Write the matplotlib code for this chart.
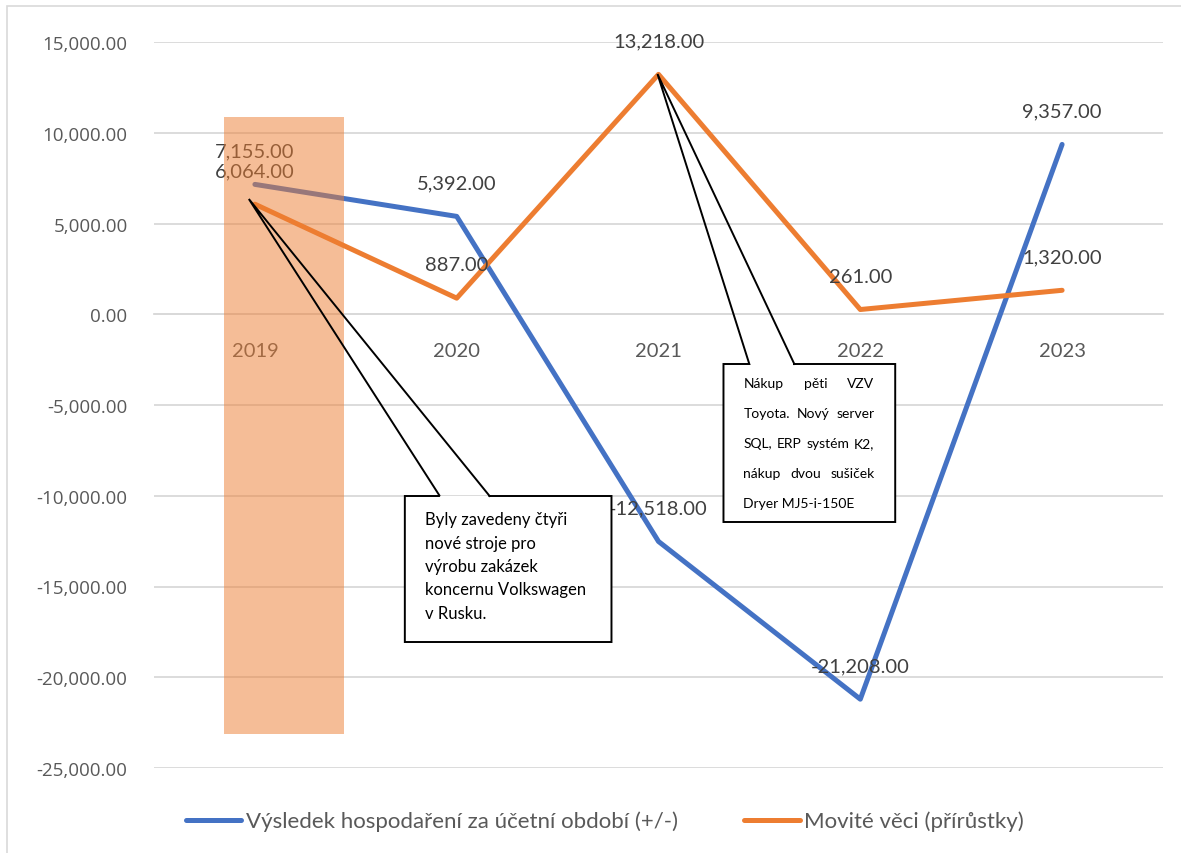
import matplotlib
matplotlib.use("Agg")
import matplotlib.pyplot as plt
from matplotlib.patches import Rectangle
from matplotlib.lines import Line2D

years = ["2019", "2020", "2021", "2022", "2023"]
vysledek = [7155, 5392, -12518, -21208, 9357]
movite = [6064, 887, 13218, 261, 1320]
series_names = ["Výsledek hospodaření za účetní období (+/-)", "Movité věci (přírůstky)"]
yticks = [15000, 10000, 5000, 0, -5000, -10000, -15000, -20000, -25000]

note1 = ["Byly zavedeny čtyři", "nové stroje pro", "výrobu zakázek",
         "koncernu Volkswagen", "v Rusku."]
note2 = ["Nákup pěti VZV", "Toyota. Nový server", "SQL, ERP systém K2,",
         "nákup dvou sušiček", "Dryer MJ5-i-150E"]

BLUE = "#4472C4"
ORANGE = "#ED7D31"
GRID = "#D9D9D9"
TXT = "#595959"
LBL = "#404040"
FONT = ["Lato", "DejaVu Sans"]
TICKFONT = ["Open Sans", "DejaVu Sans"]

W, H = 1181, 854
fig = plt.figure(figsize=(W / 100, H / 100), dpi=100)
ax = fig.add_axes([154 / W, 1 - 769 / H, (1163 - 154) / W, (769 - 43) / H])

# outer chart border
fig.patches.append(Rectangle((7 / W, -0.1), 1.2, 1 - 7 / H + 0.1, transform=fig.transFigure,
                             fill=False, edgecolor=GRID, lw=1.2, figure=fig))

x = list(range(len(years)))
ax.set_xlim(-0.5, len(years) - 0.5)
ax.set_ylim(-25000, 15000)
for s in ["top", "right", "left"]:
    ax.spines[s].set_visible(False)
ax.spines["bottom"].set_position(("data", 0))
ax.spines["bottom"].set_color(GRID)
ax.spines["bottom"].set_linewidth(1.3)

ax.set_yticks(yticks)
ax.set_yticklabels([f"{v:,.2f}" for v in yticks], fontfamily=TICKFONT, fontsize=13.5, color=TXT)
ax.yaxis.grid(True, color=GRID, lw=1.3)
ax.set_axisbelow(True)
ax.tick_params(axis="y", length=0, pad=19)
ax.set_xticks(x)
ax.set_xticklabels(years, fontfamily=FONT, fontsize=14.5, color=TXT)
ax.tick_params(axis="x", length=0, pad=20)

ax.plot(x, vysledek, color=BLUE, lw=3.6, solid_joinstyle="round", solid_capstyle="round", zorder=3)
ax.plot(x, movite, color=ORANGE, lw=3.6, solid_joinstyle="round", solid_capstyle="round", zorder=3)

for xi, v in zip(x, vysledek):
    ax.annotate(f"{v:,.2f}", (xi, v), xytext=(0, 24), textcoords="offset points",
                ha="center", va="center", fontsize=14.5, color=LBL, fontfamily=FONT, zorder=4)
for xi, v in zip(x, movite):
    ax.annotate(f"{v:,.2f}", (xi, v), xytext=(0, 24), textcoords="offset points",
                ha="center", va="center", fontsize=14.5, color=LBL, fontfamily=FONT, zorder=4)

# highlight rectangle for 2019 (drawn over, semi-transparent)
ax.add_patch(Rectangle((-0.153, -23127), 0.593, 10868 + 23127, facecolor=ORANGE,
                       alpha=0.5, edgecolor="none", zorder=5, clip_on=False))


def callout(x0, x1, ytop, ybot, b1, b2, tip):
    ax.add_patch(Rectangle((x0, ybot), x1 - x0, ytop - ybot, facecolor="white",
                           edgecolor="none", zorder=6))
    xs = [b2, x1, x1, x0, x0, b1, tip[0], b2]
    ys = [ytop, ytop, ybot, ybot, ytop, ytop, tip[1], ytop]
    ax.plot(xs, ys, color="black", lw=1.4, zorder=7, solid_joinstyle="miter")


callout(0.743, 1.767, -10014, -18058, 0.916, 1.163, (-0.03, 6350))
callout(2.322, 3.173, -2741, -11446, 2.45, 2.673, (1.995, 13237))

fig.canvas.draw()
renderer = fig.canvas.get_renderer()
to_data = ax.transData.inverted()

# note 1 text
left1 = ax.transData.transform((0.842, 0))[0]
for i, line in enumerate(note1):
    ypix = H - (520 + i * 23.5)
    ax.text(*to_data.transform((left1, ypix)), line, fontsize=12, fontfamily=FONT,
            color="black", ha="left", va="center", zorder=8)

# note 2 text, justified
left_px = ax.transData.transform((2.421, 0))[0]
right_px = left_px + 131
for i, line in enumerate(note2):
    ypix = H - (384 + i * 30)
    words = line.split()
    if i < len(note2) - 1 and len(words) > 1:
        texts = []
        widths = []
        for wd in words:
            t = ax.text(0, 0, wd, fontsize=10, fontfamily=FONT, color="black", zorder=8,
                        ha="left", va="center")
            bb = t.get_window_extent(renderer)
            texts.append(t)
            widths.append(bb.width)
        gap = (right_px - left_px - sum(widths)) / (len(words) - 1)
        xp = left_px
        for t, wdt in zip(texts, widths):
            t.set_position(to_data.transform((xp, ypix)))
            xp += wdt + gap
    else:
        ax.text(*to_data.transform((left_px, ypix)), line, fontsize=10, fontfamily=FONT,
                color="black", ha="left", va="center", zorder=8)

handles = [Line2D([], [], color=BLUE, lw=3.6, solid_capstyle="round"),
           Line2D([], [], color=ORANGE, lw=3.6, solid_capstyle="round")]
leg = fig.legend(handles, series_names, loc="center", bbox_to_anchor=(605 / W, 1 - 822 / H),
                 ncol=2, frameon=False, prop={"family": FONT, "size": 16},
                 handlelength=2.5, handletextpad=0.2, columnspacing=3.0, labelcolor=TXT)

fig.savefig("out.png", dpi=100)
